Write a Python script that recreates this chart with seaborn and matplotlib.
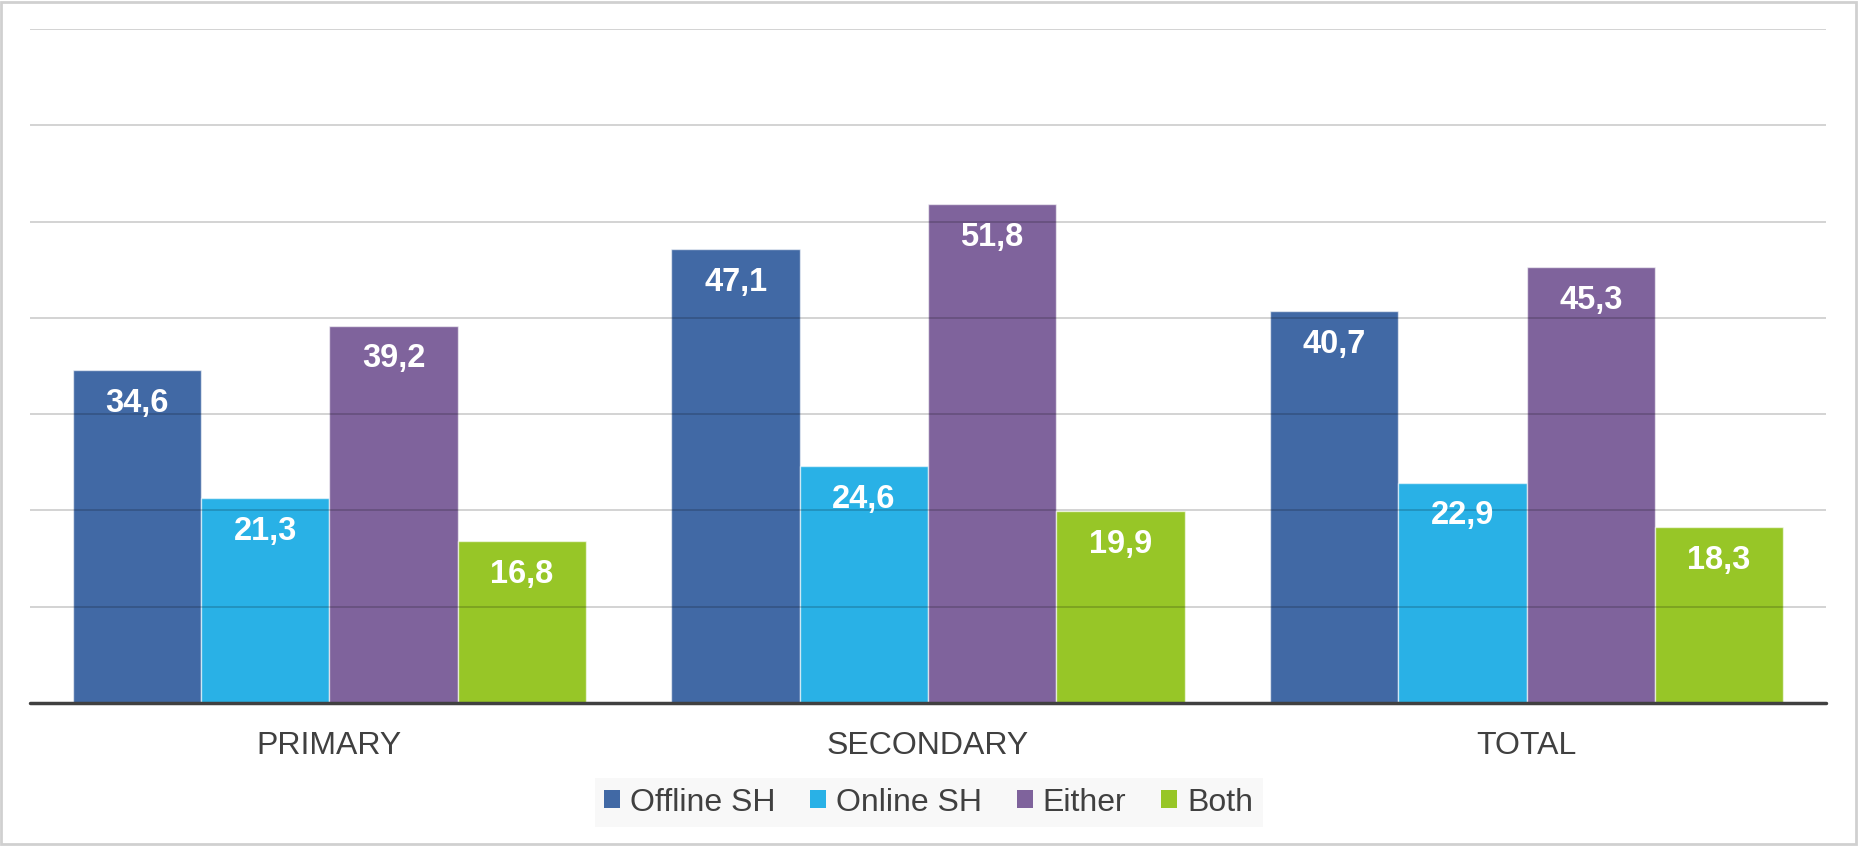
import pandas as pd
import seaborn as sns
import matplotlib.pyplot as plt
from matplotlib.patches import Rectangle

# data
groups = ['PRIMARY', 'SECONDARY', 'TOTAL']
series = ['Offline SH', 'Online SH', 'Either', 'Both']
offline_sh = [34.6, 47.1, 40.7]
online_sh = [21.3, 24.6, 22.9]
either = [39.2, 51.8, 45.3]
both = [16.8, 19.9, 18.3]

palette = {'Offline SH': '#4169A5', 'Online SH': '#29B1E6',
           'Either': '#7F639C', 'Both': '#97C627'}

rows = []
for name, vals in zip(series, [offline_sh, online_sh, either, both]):
    for g, v in zip(groups, vals):
        rows.append({'group': g, 'series': name, 'value': v})
data = pd.DataFrame(rows)

sns.set_theme(style='white')
plt.rcParams['font.family'] = ['Liberation Sans', 'DejaVu Sans']

fig = plt.figure(figsize=(18.59, 8.46), dpi=100)
ax = fig.add_axes([30 / 1859, 1 - 703 / 846, 1796 / 1859, 674 / 846])

sns.barplot(data=data, x='group', y='value', hue='series', order=groups,
            hue_order=series, palette=palette, width=0.857, gap=0,
            saturation=1.0, edgecolor=(1, 1, 1, 0.6), linewidth=1,
            legend=False, ax=ax, zorder=2)

# value labels inside the top of each bar
for cont in ax.containers:
    for bar in cont:
        h = bar.get_height()
        ax.annotate(f'{h:.1f}'.replace('.', ','),
                    xy=(bar.get_x() + bar.get_width() / 2, h),
                    xytext=(0, -24), textcoords='offset points',
                    ha='center', va='center', color='white',
                    fontsize=23.5, fontweight='bold', zorder=5)

# gridlines (drawn over the bars, as in the reference)
for yv in range(10, 71, 10):
    ax.axhline(yv, color='black', alpha=0.2, lw=1.2, zorder=3)
ax.axhline(0, color='#404040', lw=2.5, zorder=4, clip_on=False)

ax.set_xlim(-0.5, 2.5)
ax.set_ylim(0, 70)
ax.set_yticks([])
ax.set_xlabel('')
ax.set_ylabel('')
ax.tick_params(axis='x', length=0, pad=20, labelsize=23, labelcolor='#404040')
for s in ax.spines.values():
    s.set_visible(False)

# legend
handles = [Rectangle((0, 0), 1, 1, facecolor=palette[s], edgecolor='none') for s in series]
leg = fig.legend(handles, series, loc='center', bbox_to_anchor=(0.4995, 0.0514),
                 ncol=4, frameon=True, fancybox=False, fontsize=23,
                 handlelength=0.5, handleheight=0.5, handletextpad=0.3,
                 columnspacing=1.1, borderpad=0.3, borderaxespad=0)
leg.get_frame().set_facecolor('#F7F7F7')
leg.get_frame().set_edgecolor('none')
for t in leg.get_texts():
    t.set_color('#404040')

# outer chart border
fig.patches.append(Rectangle((0.0005, 0.002), 0.998, 0.996, transform=fig.transFigure,
                             fill=False, edgecolor='#D0D0D0', lw=2))

fig.savefig('out.png', dpi=100)
